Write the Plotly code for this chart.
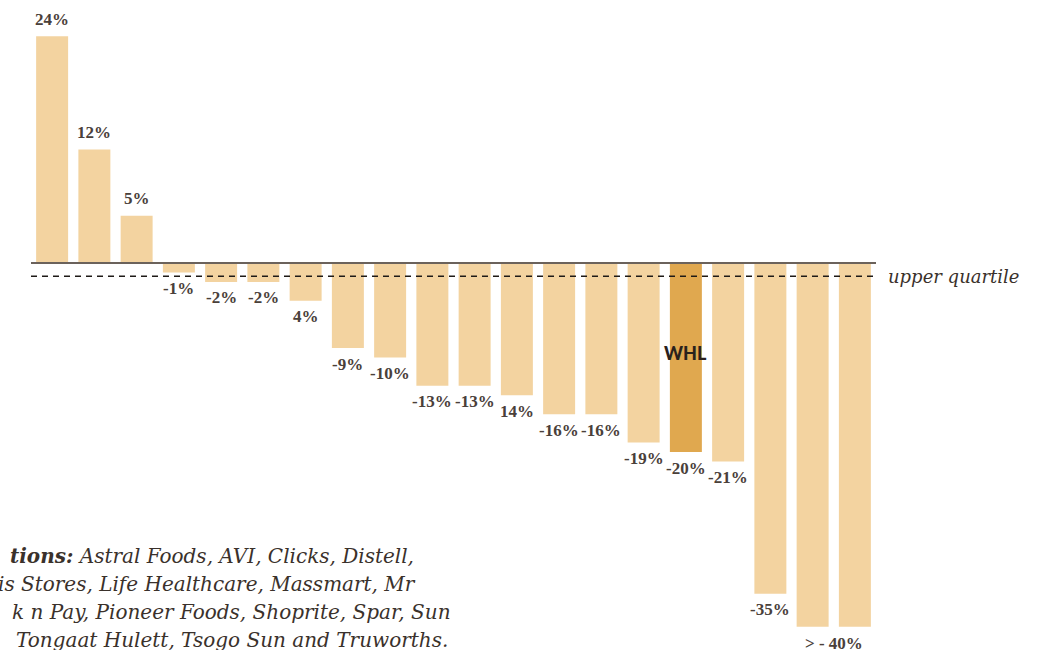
import plotly.graph_objects as go

# ---- data ----
values = [24, 12, 5, -1, -2, -2, -4, -9, -10, -13, -13, -14, -16, -16, -19, -20, -21, -35, -38.5, -38.5]
labels = ["24%", "12%", "5%", "-1%", "-2%", "-2%", "4%", "-9%", "-10%", "-13%", "-13%", "14%",
          "-16%", "-16%", "-19%", "-20%", "-21%", "-35%", "", ""]
highlight_index = 15
highlight_label = "WHL"
truncated_label = "> - 40%"
upper_quartile = -1.4
note_lines = [
    "<b>tions:</b> Astral Foods, AVI, Clicks, Distell,",
    "is Stores, Life Healthcare, Massmart, Mr",
    "k n Pay, Pioneer Foods, Shoprite, Spar, Sun",
    "Tongaat Hulett, Tsogo Sun and Truworths.",
]

W, H = 1055, 650
ML, MR = 31, 179
PX_PER_UNIT = 9.45
ZERO_PX = 263
y_hi = ZERO_PX / PX_PER_UNIT
y_lo = -(H - ZERO_PX) / PX_PER_UNIT

LIGHT = "#f3d3a0"
DARK = "#e0a84f"
TXT = "#4a403a"
SERIF = "Liberation Serif"
ITALIC = "DejaVu Serif"

x = list(range(len(values)))
colors = [DARK if i == highlight_index else LIGHT for i in x]

fig = go.Figure(go.Bar(x=x, y=values, marker=dict(color=colors, line=dict(width=0)),
                       hoverinfo="skip"))

lab_font = dict(family=SERIF, size=17, color=TXT, weight="bold")
annotations = []
for i, (v, lab) in enumerate(zip(values, labels)):
    if not lab:
        continue
    annotations.append(dict(x=i, y=v, text=lab, showarrow=False, xanchor="center", yanchor="middle",
                            yshift=17 if v > 0 else -16, font=lab_font))
annotations.append(dict(x=(len(values) - 2 + len(values) - 1) / 2, y=values[-1], text=truncated_label,
                        showarrow=False, xanchor="center", yanchor="middle", yshift=-17, font=lab_font))
annotations.append(dict(x=highlight_index, y=-9.5, text=highlight_label, showarrow=False,
                        font=dict(family="Lato", size=18, color="#2a211c", weight=900)))
annotations.append(dict(xref="paper", x=1, xshift=10, y=upper_quartile, text="<i>upper quartile</i>",
                        showarrow=False, xanchor="left", yanchor="middle",
                        font=dict(family=ITALIC, size=18, color="#3a312b")))

plot_w = W - ML - MR
def px_to_paper_x(px):
    return (px - ML) / plot_w

note_right = [416, 418, 453, 450]
note_y = [556, 584, 612, 640]
for line, xr, yp in zip(note_lines, note_right, note_y):
    annotations.append(dict(xref="paper", yref="paper", x=px_to_paper_x(xr), y=1 - yp / H,
                            text="<i>" + line + "</i>", showarrow=False, xanchor="right",
                            yanchor="middle", align="right",
                            font=dict(family=ITALIC, size=20, color="#3a312b")))

shapes = [
    dict(type="line", xref="paper", x0=0, x1=1, yref="y", y0=0, y1=0,
         line=dict(color="#6b625b", width=2), layer="above"),
    dict(type="line", xref="paper", x0=0, x1=1, yref="y", y0=upper_quartile, y1=upper_quartile,
         line=dict(color="#1e1a17", width=1.3, dash="6px,5px"), layer="above"),
]

fig.update_layout(
    width=W, height=H,
    margin=dict(l=ML, r=MR, t=0, b=0),
    paper_bgcolor="white", plot_bgcolor="white",
    bargap=0.243,
    showlegend=False,
    xaxis=dict(range=[-0.5, len(values) - 0.5], visible=False),
    yaxis=dict(range=[y_lo, y_hi], visible=False),
    annotations=annotations,
    shapes=shapes,
)

fig.write_html("out.html", config={"displayModeBar": False},
               post_script="document.body.style.margin='0';")
